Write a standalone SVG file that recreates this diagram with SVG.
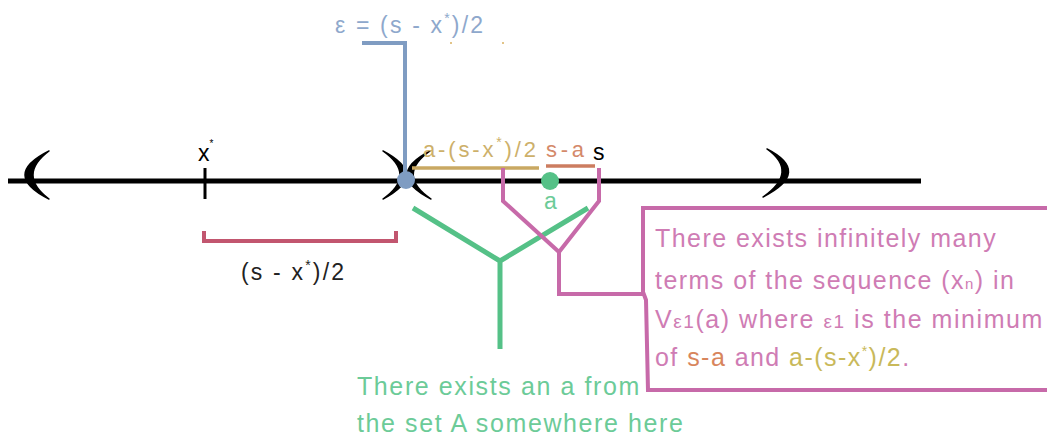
<svg xmlns="http://www.w3.org/2000/svg" width="1047" height="441" viewBox="0 0 1047 441">
<style>
  text { font-family: "Liberation Sans", Arial, sans-serif; }
  .paren { fill: #000; stroke: #000; stroke-width: 1.5; stroke-linejoin: round; }
  .pink { fill: #cf7cb4; }
  .green { fill: #6ccb98; }
  .ln { fill: none; stroke-linejoin: miter; }
  .sup { font-size: 14px; }
</style>

<g id="number-line">
  <line x1="8" y1="181" x2="921" y2="181" stroke="#000" stroke-width="5"/>
  <path class="paren" d="M49,151 Q1,175 49,199 Q17,175 49,151 Z"/>
  <path class="paren" d="M383,151 Q429,175 383,199 Q417,175 383,151 Z"/>
  <path class="paren" d="M430,151 Q384,175 431,199 Q396,175 430,151 Z"/>
  <path class="paren" d="M767,149 Q812,172 763,197 Q799,172 767,149 Z"/>
</g>

<g id="x-star">
  <line x1="205" y1="168" x2="205" y2="199" stroke="#000" stroke-width="3"/>
  <text x="198" y="161" font-size="23" fill="#000">x<tspan font-size="10" dy="-14">*</tspan></text>
</g>

<g id="half-distance">
  <path class="ln" d="M204,231 V241 H396 V231" stroke="#c2566f" stroke-width="4"/>
  <text x="241" y="280" font-size="23" fill="#222" textLength="103" lengthAdjust="spacing">(s - x<tspan class="sup" dy="-10">*</tspan><tspan dy="10">)/2</tspan></text>
</g>

<g id="epsilon-label">
  <text x="335" y="33" font-size="23" fill="#8ea8cc" textLength="148" lengthAdjust="spacing">ε = (s - x<tspan class="sup" dy="-10">*</tspan><tspan dy="10">)/2</tspan></text>
  <circle cx="451" cy="43" r="1" fill="#d8b060"/>
  <circle cx="503" cy="43" r="1" fill="#d8b060"/>
</g>

<g id="gap-label">
  <text x="423" y="157" font-size="22" fill="#cdb06a" textLength="113" lengthAdjust="spacing">a-(s-x<tspan class="sup" dy="-10">*</tspan><tspan dy="10">)/2</tspan></text>
  <line x1="412" y1="168" x2="539" y2="168" stroke="#c9a862" stroke-width="3.5"/>
</g>

<g id="s-a-label">
  <text x="546" y="157" font-size="22" fill="#d4896a" textLength="38" lengthAdjust="spacing">s-a</text>
  <line x1="546" y1="166" x2="595" y2="166" stroke="#cc7d60" stroke-width="3.5"/>
</g>

<g id="s-label">
  <text x="593" y="160" font-size="23" fill="#000">s</text>
</g>

<g id="point-a">
  <circle cx="550" cy="181" r="9" fill="#55c187"/>
  <text x="544" y="209" font-size="23" fill="#6ccb98">a</text>
</g>

<g id="connectors">
  <path class="ln" d="M362,43 H405 V180" stroke="#7f9cc2" stroke-width="4"/>
  <path class="ln" d="M413,208 L500,261 L588,208 M500,261 V349" stroke="#55c187" stroke-width="5"/>
  <path class="ln" d="M503,168 V201 L559,252 L599,201 V168 M559,252 V294 H643" stroke="#c76aa9" stroke-width="4"/>
</g>

<g id="blue-dot">
  <circle cx="406" cy="180" r="9" fill="#7f9cc2"/>
</g>

<g id="note-box">
  <path class="ln" d="M1052,208 H643 V292 L646,300 L648,390 H1052" stroke="#c76aa9" stroke-width="4"/>
  <text x="655" y="247" font-size="25" letter-spacing="1.45" class="pink">There exists infinitely many</text>
  <text x="655" y="289" font-size="25" letter-spacing="1.45" class="pink">terms of the sequence (x<tspan font-size="15">n</tspan>) in</text>
  <text x="655" y="328" font-size="25" letter-spacing="1.55" class="pink">V<tspan font-size="19">ε1</tspan>(a) where <tspan font-size="19">ε1</tspan> is the minimum</text>
  <text x="655" y="366" font-size="25" letter-spacing="1.45" class="pink">of <tspan fill="#d8855c">s-a</tspan> and <tspan fill="#c9b95a">a-(s-x<tspan class="sup" dy="-10">*</tspan><tspan dy="10">)/2</tspan></tspan>.</text>
</g>

<g id="green-note">
  <text x="357" y="395" font-size="25" letter-spacing="1.6" class="green">There exists an a from</text>
  <text x="357" y="432" font-size="25" letter-spacing="1.6" class="green">the set A somewhere here</text>
</g>
</svg>
